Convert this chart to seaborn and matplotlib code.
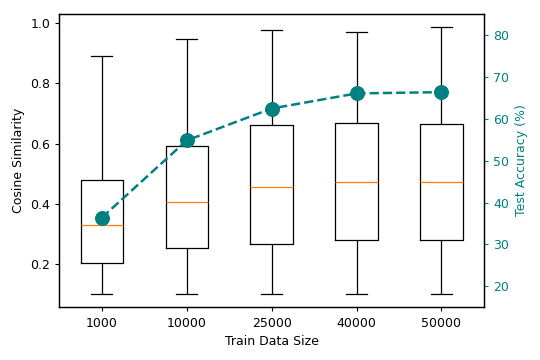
import numpy as np
import pandas as pd
import matplotlib
matplotlib.use("Agg")
import matplotlib.pyplot as plt
import seaborn as sns

sizes = ["1000", "10000", "25000", "40000", "50000"]
sim_min = [0.100, 0.100, 0.100, 0.100, 0.100]
sim_q1 = [0.204, 0.252, 0.267, 0.278, 0.278]
sim_med = [0.330, 0.405, 0.455, 0.472, 0.473]
sim_q3 = [0.479, 0.592, 0.661, 0.668, 0.666]
sim_max = [0.890, 0.947, 0.976, 0.970, 0.987]
accuracy = [36.4, 54.8, 62.4, 66.0, 66.3]

rows = []
for i, s in enumerate(sizes):
    for v in (sim_min[i], sim_q1[i], sim_med[i], sim_q3[i], sim_max[i]):
        rows.append({"size": s, "sim": v})
df = pd.DataFrame(rows)

plt.rcParams["font.size"] = 9
plt.rcParams["xtick.major.size"] = 3.2
plt.rcParams["ytick.major.size"] = 3.2
plt.rcParams["axes.linewidth"] = 0.9

fig, ax = plt.subplots(figsize=(5.4, 3.6), dpi=100)
sns.boxplot(data=df, x="size", y="sim", order=sizes, ax=ax, whis=(0, 100),
            width=0.5, fill=False, color="black", linewidth=0.9,
            medianprops=dict(color="#ff7f0e", linewidth=0.9),
            capprops=dict(color="black"), whiskerprops=dict(color="black"),
            boxprops=dict(color="black"))
ax.set_xlabel("Train Data Size")
ax.set_ylabel("Cosine Similarity")
ax.set_xlim(-0.5, 4.5)
ax.set_yticks([0.2, 0.4, 0.6, 0.8, 1.0])

ax2 = ax.twinx()
sns.lineplot(x=np.arange(len(sizes)), y=accuracy, ax=ax2, color="teal",
             linestyle="--", linewidth=1.8, marker="o", markersize=10,
             markeredgecolor="teal")
ax2.set_ylim(15, 85)
ax2.set_ylabel("Test Accuracy (%)", color="teal")
ax2.tick_params(axis="y", colors="teal")
ax2.set_xlim(-0.5, 4.5)

fig.subplots_adjust(left=0.110, right=0.896, top=0.962, bottom=0.146)
fig.savefig("out.png")
